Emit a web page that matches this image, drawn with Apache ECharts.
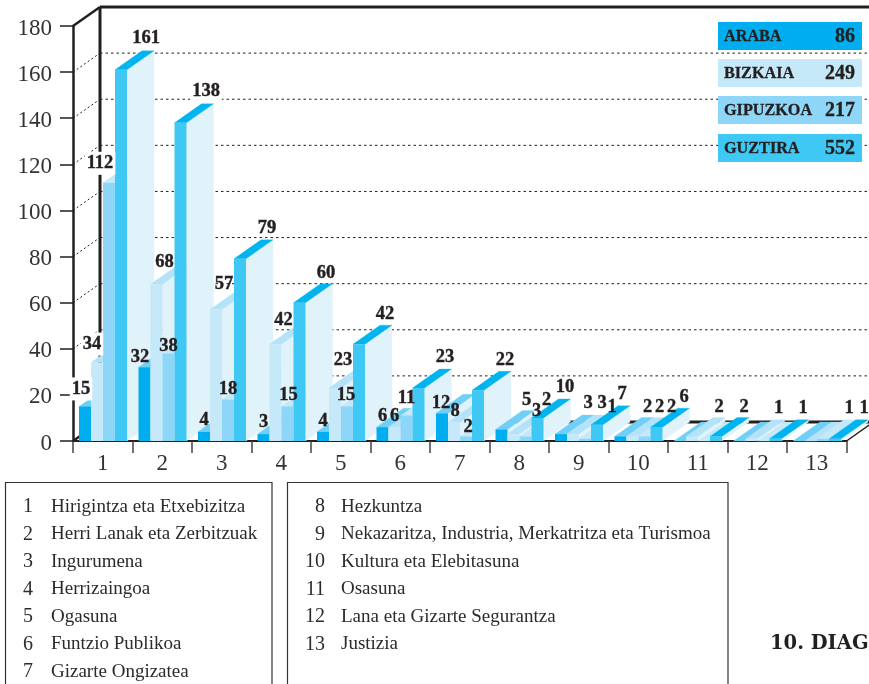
<!DOCTYPE html>
<html><head><meta charset="utf-8">
<style>html,body{margin:0;padding:0;background:#fff}#c{width:869px;height:684px}</style>
<script src="https://cdn.jsdelivr.net/npm/echarts@6/dist/echarts.min.js"></script>
</head><body><div id="c"></div>
<script>
const categories = ['1','2','3','4','5','6','7','8','9','10','11','12','13'];
const araba    = [15,32,4,3,4,6,12,5,3,2,0,0,0];
const bizkaia  = [34,68,57,42,23,6,8,3,3,2,2,1,0];
const gipuzkoa = [112,38,18,15,15,11,2,2,1,2,0,0,1];
const guztira  = [161,138,79,60,42,23,22,10,7,6,2,1,1];
const yTicks = [0,20,40,60,80,100,120,140,160,180];
const regionNames = ['ARABA','BIZKAIA','GIPUZKOA','GUZTIRA'];
const regionTotals = ['86','249','217','552'];
const themesLeft = ['Hirigintza eta Etxebizitza','Herri Lanak eta Zerbitzuak','Ingurumena','Herrizaingoa','Ogasuna','Funtzio Publikoa','Gizarte Ongizatea'];
const themesRight = ['Hezkuntza','Nekazaritza, Industria, Merkatritza eta Turismoa','Kultura eta Elebitasuna','Osasuna','Lana eta Gizarte Segurantza','Justizia'];
const caption = '10. DIAG';

// styling: front / top / side face colours per series
const faceColors = [
  {front:'#00aeef', top:'#6fcff6', side:'#e0f3fb'},
  {front:'#c6e9fa', top:'#b4e3f9', side:'#e0f3fb'},
  {front:'#8dd6f7', top:'#c6e9fa', side:'#e0f3fb'},
  {front:'#40c8f5', top:'#00b5ef', side:'#e0f3fb'}
];
// styling: label offsets from the top centre of a bar's front face
const labelOffsets = [
  [[-4,-19],[-4.5,-12],[0,-13],[0,-13],[0,-12],[0,-12],[-1,-12],[25,-31],[27,-32],[27,-31]],
  [[-5,-20],[8,-24],[8,-27],[8,-25],[8,-29],[0,-12],[1,-13],[23,-24],[29,-32],[27,-31],[27,-31],[27,-32]],
  [[-9,-21],[0,-9],[0,-12],[1,-13],[-1,-13],[0,-19],[2,-11],[21,-38],[27,-33],[27,-31],[27,-31],[27,-31],[26,-32]],
  [[25,-33],[25.5,-33],[27,-32],[26.5,-31],[26,-31],[26.5,-32],[27,-32],[27.5,-32],[25,-32],[27.5,-31],[28,-31],[27.5,-32],[29,-32]]
];
const DX = 27, DY = -19, BAR = 12, PAD = 6, TEXT_SHIFT = 1.5;
const INK = '#231f20';
const SERIF = '"Liberation Serif","DejaVu Serif",serif';

function poly(points, fill, z2){
  return {type:'polygon', shape:{points}, style:{fill, stroke:fill, lineWidth:0.3}, z2};
}
function line(a,b,w,dash,z2,color){
  return {type:'line', shape:{x1:a[0],y1:a[1],x2:b[0],y2:b[1]},
    style:{stroke:color||INK, lineWidth:w, lineDash:dash||null, fill:null}, z2:z2||0};
}
function barRenderer(s){
  return function(params, api){
    const c = api.value(0), v = api.value(1);
    const band = api.size([1,0])[0];
    const top = api.coord([c, v]), base = api.coord([c, 0]);
    const x0 = top[0] - band/2 + PAD + BAR*s, x1 = x0 + BAR;
    const ky = c*10 + s;
    const col = faceColors[s];
    const kids = [
      poly([[x1,top[1]],[x1+DX,top[1]+DY],[x1+DX,base[1]+DY],[x1,base[1]]], col.side, ky),
      poly([[x0,top[1]],[x1,top[1]],[x1+DX,top[1]+DY],[x0+DX,top[1]+DY]], col.top, ky),
      {type:'rect', shape:{x:x0,y:top[1],width:BAR,height:base[1]-top[1]}, style:{fill:col.front}, z2:ky}
    ];
    if (v > 0){
      const off = labelOffsets[s][c] || [27,-32];
      const wb = (c===0 && s<3) || (c===1 && s===3);
      kids.push({type:'text', z2:1000+ky,
        style:{text:String(v), x:(x0+x1)/2+off[0], y:top[1]+off[1]+TEXT_SHIFT, fill:INK,
          font:'bold 18.5px '+SERIF, align:'center', verticalAlign:'middle',
          stroke:INK, lineWidth:0.4,
          backgroundColor: wb ? '#fff' : 'transparent', padding: wb ? [2,2,2,2] : 0}});
    }
    return {type:'group', children:kids};
  };
}
function frameRenderer(params, api){
  const v = api.value(0);
  const band = api.size([1,0])[0];
  const p = api.coord([0, v]);
  const left = p[0] - band/2, y = p[1];
  const right = api.coord([categories.length-1, v])[0] + band/2;
  const kids = [];
  if (v === 0){
    kids.push(line([left,y],[left+DX,y+DY],2.5));
    kids.push(line([left+DX,y+DY],[right+DX,y+DY],3));
    kids.push(line([right,y],[right+DX,y+DY],1.5));
    const t = api.coord([0, yTicks[yTicks.length-1]]);
    kids.push(line([left+DX,t[1]+DY],[left+DX,y+DY],3));
  } else if (v === yTicks[yTicks.length-1]){
    kids.push(line([left,y],[left+DX,y+DY],2.5));
    kids.push(line([left+DX,y+DY],[right+DX,y+DY],3));
  } else {
    kids.push(line([left,y],[left+DX,y+DY],1,[2,2.5]));
    kids.push(line([left+DX,y+DY],[right+DX,y+DY],1,[2.5,3]));
  }
  return {type:'group', children:kids};
}
const zip = arr => arr.map((v,i)=>[i,v]);
const seriesArr = [
  {type:'custom', name:'frame', silent:true, clip:false, z:1, renderItem:frameRenderer,
   encode:{y:0}, data:yTicks.map(v=>[v]), animation:false}
];
[araba,bizkaia,gipuzkoa,guztira].forEach((arr,s)=>{
  seriesArr.push({type:'custom', name:regionNames[s], silent:true, clip:false, z:2,
    renderItem:barRenderer(s), encode:{x:0,y:1}, data:zip(arr), animation:false});
});

// legend panels and theme boxes
const graphics = [];
const panelTops = [22,59,96,134];
regionNames.forEach((n,i)=>{
  graphics.push({type:'rect', z:10, shape:{x:718,y:panelTops[i],width:144,height:28}, style:{fill:faceColors[i].front}});
  graphics.push({type:'text', z:11, x:724, y:panelTops[i]+15, style:{text:n, fill:INK, stroke:INK, lineWidth:0.3, font:'bold 16.2px '+SERIF, verticalAlign:'middle'}});
  graphics.push({type:'text', z:11, x:855, y:panelTops[i]+15, style:{text:regionTotals[i], fill:INK, stroke:INK, lineWidth:0.3, font:'bold 20px '+SERIF, align:'right', verticalAlign:'middle'}});
});
function box(x,w){graphics.push({type:'polyline', z:10, shape:{points:[[x,690],[x,482.5],[x+w,482.5],[x+w,690]]}, style:{stroke:'#333',lineWidth:1.2,fill:null}});}
box(5.5,266.5); box(287.5,440.5);
const rowY = [507,534.5,562,589.5,617,644.5,672];
function rows(list, start, numX, txtX){
  list.forEach((t,i)=>{
    graphics.push({type:'text', z:11, x:numX, y:rowY[i], style:{text:String(start+i), fill:'#2b2b2b', font:'20px '+SERIF, align:'right', verticalAlign:'middle'}});
    graphics.push({type:'text', z:11, x:txtX, y:rowY[i], style:{text:t, fill:'#2b2b2b', font:'19px '+SERIF, verticalAlign:'middle'}});
  });
}
rows(themesLeft,1,33,51);
rows(themesRight,8,325,341);
graphics.push({type:'text', z:11, x:770, y:644, style:{text:caption, fill:INK, font:'bold 19.5px "DejaVu Serif",serif', verticalAlign:'middle'}});

const chart = echarts.init(document.getElementById('c'), null, {renderer:'canvas'});
chart.setOption({
  animation:false,
  backgroundColor:'#fff',
  grid:{left:73, right:22.5, top:26, bottom:243, containLabel:false},
  xAxis:{type:'category', data:categories, boundaryGap:true,
    axisLine:{lineStyle:{color:INK,width:2}},
    axisTick:{show:true, length:12, alignWithLabel:false, lineStyle:{color:'#444',width:1.5}},
    axisLabel:{color:'#333', fontFamily:SERIF, fontSize:23, margin:11, interval:0}},
  yAxis:{type:'value', min:0, max:180, interval:20,
    axisLine:{show:true, lineStyle:{color:INK,width:2.5}},
    axisTick:{show:true, length:13, lineStyle:{color:INK,width:1.5}},
    axisLabel:{margin:21, formatter:'{n|{value}}',
      rich:{n:{color:'#333', fontFamily:SERIF, fontSize:23, padding:[5,0,0,0]}}},
    splitLine:{show:false}},
  series:seriesArr,
  graphic:{elements:graphics}
});
</script></body></html>
